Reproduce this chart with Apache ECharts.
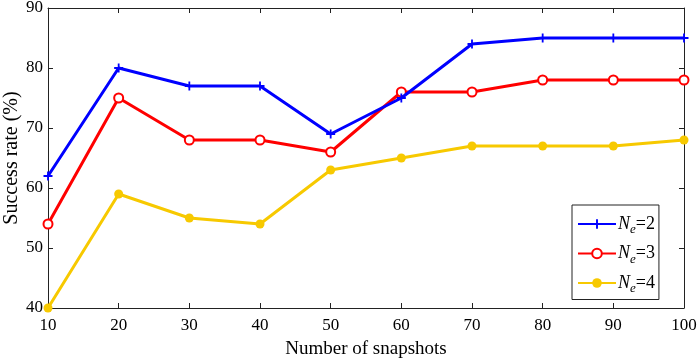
<!DOCTYPE html>
<html>
<head>
<meta charset="utf-8">
<script src="https://cdn.jsdelivr.net/npm/echarts@6/dist/echarts.min.js"></script>
<style>
  html, body { margin: 0; padding: 0; background: #fff; }
  #chart { width: 699px; height: 362px; }
</style>
</head>
<body>
<div id="chart"></div>
<script>
// snapshots on x, success rate (%) on y
var snapshots = [10, 20, 30, 40, 50, 60, 70, 80, 90, 100];
var ne2 = [62, 80, 77, 77, 69, 75, 84, 85, 85, 85];
var ne3 = [54, 75, 68, 68, 66, 76, 76, 78, 78, 78];
var ne4 = [40, 59, 55, 54, 63, 65, 67, 67, 67, 68];
var seriesNames = ['Ne=2', 'Ne=3', 'Ne=4'];

var fontFam = '"Liberation Serif", "Times New Roman", serif';
var plusPath = 'path://M4,0H6V4H10V6H6V10H4V6H0V4H4Z';

function pairs(vals) {
    return snapshots.map(function(x, i) { return [x, vals[i]]; });
}

var chart = echarts.init(document.getElementById('chart'));

var axisCommon = {
    axisLine: { show: true, lineStyle: { color: '#222', width: 1 } },
    axisTick: { show: true, inside: true, length: 5, lineStyle: { color: '#222' } },
    splitLine: { show: false }
};

var option = {
    animation: false,
    backgroundColor: '#fff',
    textStyle: { fontFamily: fontFam },
    grid: { left: 48, right: 15, top: 8, bottom: 54, outerBoundsMode: 'none', containLabel: false },
    legend: {
        orient: 'vertical',
        left: 572,
        top: 205,
        backgroundColor: '#fff',
        borderColor: '#222',
        borderWidth: 1,
        borderRadius: 0,
        padding: [10, 4, 4, 5],
        itemWidth: 38,
        itemHeight: 12,
        itemGap: 8,
        data: seriesNames,
        formatter: function(name) {
            return '{n|N}{s|e}{t|=' + name.slice(3) + '}';
        },
        textStyle: {
            fontFamily: fontFam,
            color: '#000',
            padding: [0, 0, 0, -3],
            rich: {
                n: { fontSize: 18, fontStyle: 'italic', fontFamily: fontFam },
                s: { fontSize: 13, fontStyle: 'italic', fontFamily: fontFam, padding: [12, 0, 0, 0] },
                t: { fontSize: 18, fontFamily: fontFam }
            }
        }
    },
    xAxis: [
        Object.assign({
            type: 'value',
            min: 10,
            max: 100,
            interval: 10,
            name: 'Number of snapshots',
            nameLocation: 'middle',
            nameGap: 32,
            nameMoveOverlap: false,
            nameTextStyle: { fontSize: 19, color: '#000', fontFamily: fontFam },
            axisLabel: { fontSize: 17, color: '#000', margin: 9, fontFamily: fontFam }
        }, axisCommon),
        Object.assign({
            type: 'value',
            position: 'top',
            min: 10,
            max: 100,
            interval: 10,
            axisLabel: { show: false }
        }, axisCommon)
    ],
    yAxis: [
        Object.assign({
            type: 'value',
            min: 40,
            max: 90,
            interval: 10,
            name: 'Success rate (%)',
            nameLocation: 'middle',
            nameGap: 26,
            nameMoveOverlap: false,
            nameTextStyle: { fontSize: 20, color: '#000', fontFamily: fontFam },
            axisLabel: { fontSize: 17, color: '#000', margin: 5, fontFamily: fontFam }
        }, axisCommon),
        Object.assign({
            type: 'value',
            position: 'right',
            min: 40,
            max: 90,
            interval: 10,
            axisLabel: { show: false }
        }, axisCommon)
    ],
    series: [
        {
            name: seriesNames[0],
            type: 'line',
            data: pairs(ne2),
            symbol: plusPath,
            symbolSize: 9,
            showAllSymbol: true,
            lineStyle: { color: '#0000ff', width: 3 },
            itemStyle: { color: '#0000ff' },
            z: 4
        },
        {
            name: seriesNames[1],
            type: 'line',
            data: pairs(ne3),
            symbol: 'emptyCircle',
            symbolSize: 9,
            showAllSymbol: true,
            lineStyle: { color: '#ff0000', width: 3 },
            itemStyle: { color: '#ff0000', borderColor: '#ff0000', borderWidth: 2.5 },
            z: 3
        },
        {
            name: seriesNames[2],
            type: 'line',
            data: pairs(ne4),
            symbol: 'circle',
            symbolSize: 9,
            showAllSymbol: true,
            lineStyle: { color: '#f7c900', width: 3 },
            itemStyle: { color: '#f7c900' },
            z: 2
        }
    ]
};

chart.setOption(option);
</script>
</body>
</html>
